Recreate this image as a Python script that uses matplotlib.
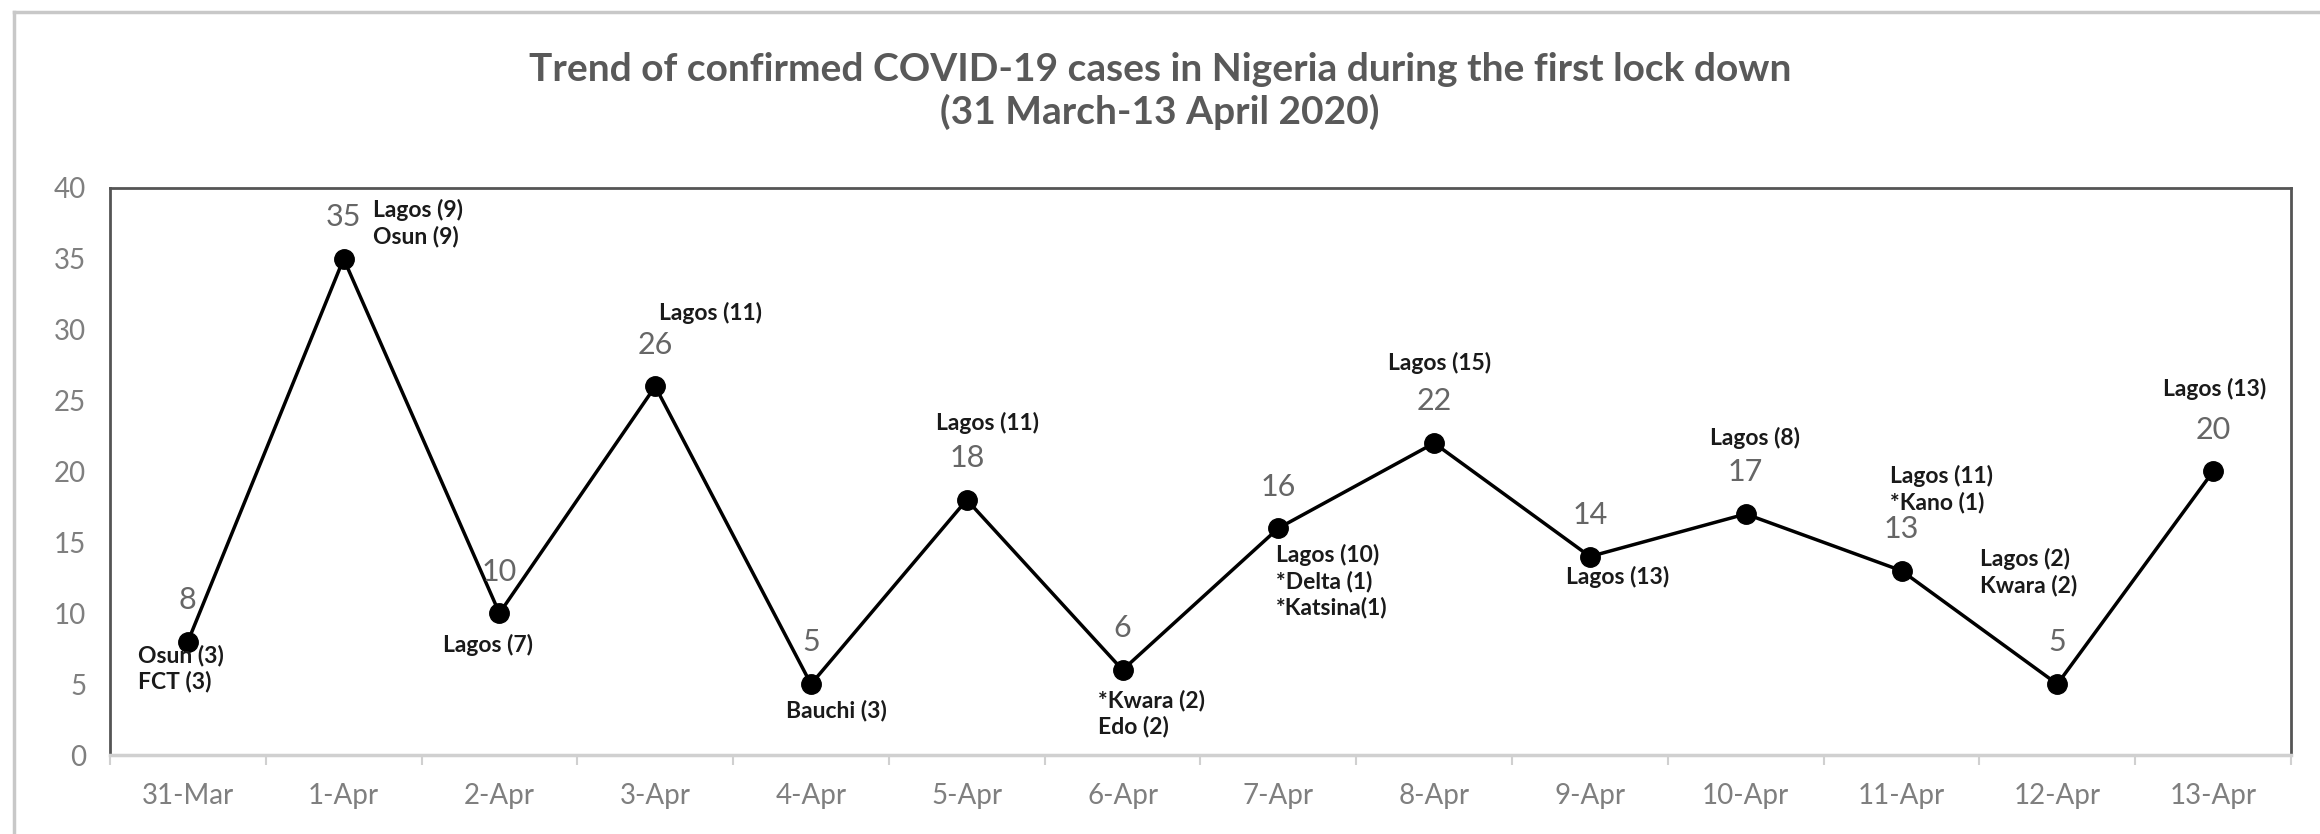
import matplotlib
matplotlib.use("Agg")
import matplotlib.pyplot as plt
from matplotlib.lines import Line2D

plt.rcParams["font.family"] = ["Lato", "DejaVu Sans"]

# data
dates = ["31-Mar", "1-Apr", "2-Apr", "3-Apr", "4-Apr", "5-Apr", "6-Apr",
         "7-Apr", "8-Apr", "9-Apr", "10-Apr", "11-Apr", "12-Apr", "13-Apr"]
cases = [8, 35, 10, 26, 5, 18, 6, 16, 22, 14, 17, 13, 5, 20]
states = [
    "Osun (3)\nFCT (3)",
    "Lagos (9)\nOsun (9)",
    "Lagos (7)",
    "Lagos (11)",
    "Bauchi (3)",
    "Lagos (11)",
    "*Kwara (2)\nEdo (2)",
    "Lagos (10)\n*Delta (1)\n*Katsina(1)",
    "Lagos (15)",
    "Lagos (13)",
    "Lagos (8)",
    "Lagos (11)\n*Kano (1)",
    "Lagos (2)\nKwara (2)",
    "Lagos (13)",
]

# where each state note sits relative to its point (points), and alignment
note_pos = [(-36, -2, "left"), (21, 43, "left"), (-8, -15, "center"),
            (3, 61, "left"), (-18, -11, "left"), (-22, 63, "left"),
            (-18, -14, "left"), (-2, -11, "left"), (4, 66, "center"),
            (-17, -7, "left"), (-26, 63, "left"), (-8, 76, "left"),
            (-56, 98, "left"), (-36, 67, "left")]

fig = plt.figure(figsize=(23.2, 8.34), dpi=100)
ax = fig.add_axes([0.0474, 0.0947, 0.9401, 0.68])

x = list(range(len(dates)))
ax.plot(x, cases, color="black", lw=2.5, marker="o", ms=14, zorder=3)

for xi, yi in zip(x, cases):
    ax.annotate(str(yi), (xi, yi), xytext=(0, 30), textcoords="offset points",
                ha="center", va="center", fontsize=22, color="#666666")

for xi, yi, txt, (dx, dy, ha) in zip(x, cases, states, note_pos):
    ax.annotate(txt, (xi, yi), xytext=(dx, dy), textcoords="offset points",
                ha=ha, va="top", fontsize=16.5, fontweight="bold",
                color="#1a1a1a", linespacing=1.27)

ax.set_xlim(-0.5, len(dates) - 0.5)
ax.set_ylim(0, 40)
ax.set_yticks(range(0, 41, 5))

# ticks between categories, labels in the middle
ax.set_xticks([i - 0.5 for i in range(len(dates) + 1)])
ax.set_xticklabels([])
ax.set_xticks(x, minor=True)
ax.set_xticklabels(dates, minor=True)
ax.tick_params(axis="x", which="major", length=7, width=1.5, color="#d0d0d0")
ax.tick_params(axis="x", which="minor", length=0, pad=20, labelsize=20,
               labelcolor="#7f7f7f")
ax.tick_params(axis="y", length=0, pad=17, labelsize=20, labelcolor="#7f7f7f")

for s in ["top", "left", "right"]:
    ax.spines[s].set_color("#555555")
    ax.spines[s].set_linewidth(2)
ax.spines["bottom"].set_color("#d0d0d0")
ax.spines["bottom"].set_linewidth(2.5)

fig.text(0.5, 1 - 91 / 834,
         "Trend of confirmed COVID-19 cases in Nigeria during the first lock down\n(31 March-13 April 2020)",
         ha="center", va="center", fontsize=28, fontweight="bold",
         color="#595959", linespacing=1.25)

# outer frame (top and left edges only show)
fig.add_artist(Line2D([14 / 2320, 1.0], [1 - 12 / 834, 1 - 12 / 834],
                      transform=fig.transFigure, color="#c8c8c8", lw=2.5))
fig.add_artist(Line2D([14 / 2320, 14 / 2320], [0, 1 - 12 / 834],
                      transform=fig.transFigure, color="#c8c8c8", lw=2.5))

fig.savefig("out.png", dpi=100, facecolor="white")
